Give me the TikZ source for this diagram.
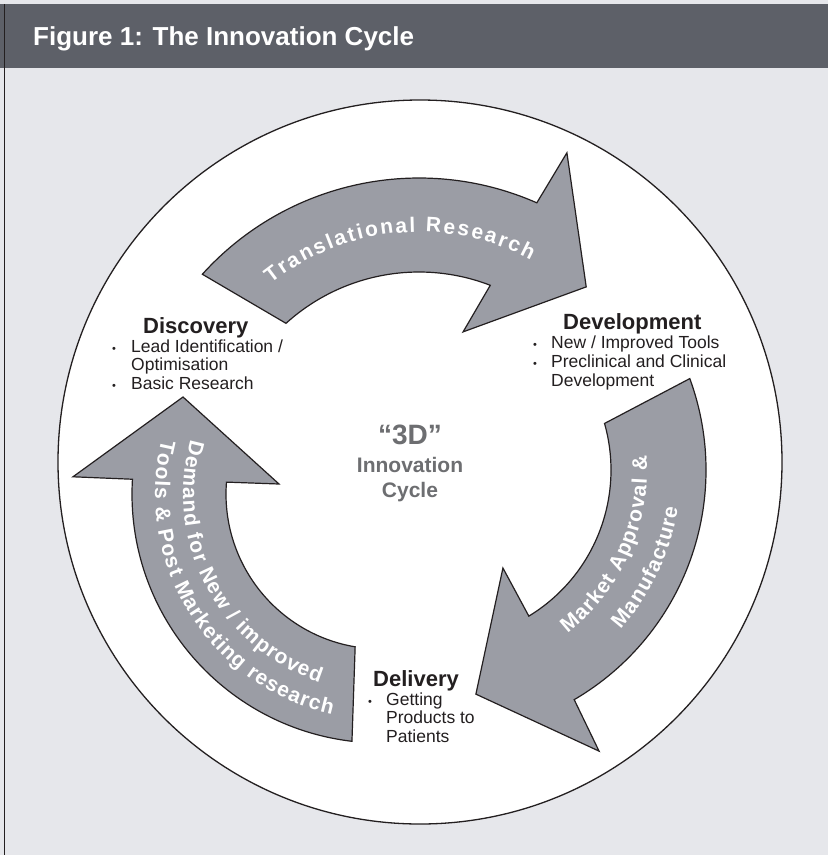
\documentclass[tikz,border=0pt]{standalone}
\usepackage{fontspec}
\setmainfont{Liberation Sans}
\definecolor{hdr}{HTML}{5D6068}
\definecolor{bg}{HTML}{E6E7EB}
\definecolor{arr}{HTML}{9B9DA5}
\definecolor{ink}{HTML}{231F20}
\definecolor{midgray}{HTML}{6D6E71}
\def\arrowsize{21}
\newcommand\arrowfont{\fontsize{\arrowsize}{\arrowsize}\selectfont\bfseries}
\newcounter{archar}
% #1 radius, #2 start angle, #3 end angle, #4 sign (1 = clockwise on screen, -1 = anticlockwise),
% #5 comma list of character/advance-width (em) pairs
\newcommand\arctext[5]{%
  \gdef\totw{0}\gdef\nch{0}%
  \foreach \c/\w in {#5} {\pgfmathsetmacro\tmpw{\totw+\w*\arrowsize}\xdef\totw{\tmpw}\pgfmathsetmacro\tmpn{\nch+1}\xdef\nch{\tmpn}}%
  \pgfmathsetmacro\trk{(abs((#3)-(#2))/57.29578*(#1)-\totw)/(\nch-1)}%
  \xdef\trk{\trk}%
  \xdef\curang{#2}%
  \foreach \c/\w in {#5} {%
    \pgfmathsetmacro\midang{\curang+(#4)*(\w*\arrowsize/2)/(#1)*57.29578}%
    \pgfmathsetmacro\rot{-(\midang+(#4)*90)}%
    \stepcounter{archar}%
    \node[rotate=\rot,anchor=base,inner sep=0,text=white] (ac\arabic{archar}) at (\midang:#1) {\arrowfont\c};%
    \pgfmathsetmacro\nextang{\curang+(#4)*(\w*\arrowsize+\trk)/(#1)*57.29578}%
    \xdef\curang{\nextang}%
  }%
}
\begin{document}
\begin{tikzpicture}[x=1pt,y=-1pt,
  arrowshape/.style={fill=arr,draw=ink,line width=1.2pt,line join=miter},
  head/.style={anchor=base west,inner sep=0,text=ink,font=\fontsize{22}{22}\selectfont\bfseries},
  btext/.style={anchor=base west,inner sep=0,text=ink,font=\fontsize{17.5}{18}\selectfont},
  bul/.style={anchor=base,inner sep=0,text=ink,font=\fontsize{11}{11}\selectfont},
  ctext/.style={anchor=base,inner sep=0,text=midgray,font=\fontsize{21}{21}\selectfont\bfseries}
]
\useasboundingbox (0,0) rectangle (828,855);
\fill[bg] (0,0) rectangle (828,855);
\fill[hdr] (0,4) rectangle (828,68);
\draw[ink,line width=1.5pt] (4.5,4) -- (4.5,855);
\node[anchor=base west,inner sep=0,text=white,font=\fontsize{26}{26}\selectfont\bfseries] (title) at (33,45) {Figure 1: The Innovation Cycle};

% big circle
\draw[fill=white,draw=ink,line width=1.3pt] (420,462) circle[radius=362];

% top arrow
\begin{scope}[shift={(419,470)}]
\draw[arrowshape] (-137.9:292) arc[start angle=-137.9,end angle=-66.2,radius=292]
  -- (-65:350) -- (-47.6:248) -- (-72.3:145) -- (-68.9:198)
  arc[start angle=-68.9,end angle=-132.2,radius=198] -- cycle;
\arctext{238}{-128.5}{-62}{1}{T/0.611,r/0.389,a/0.556,n/0.611,s/0.556,l/0.278,a/0.556,t/0.333,i/0.278,o/0.611,n/0.611,a/0.556,l/0.278,{\ }/0.278,R/0.722,e/0.556,s/0.556,e/0.556,a/0.556,r/0.389,c/0.556,h/0.611}
\end{scope}

% right arrow
\begin{scope}[shift={(440,470)}]
\draw[arrowshape] (-20.1:266) arc[start angle=-20.1,end angle=59.7,radius=266]
  -- (60.5:323) -- (80.9:227) -- (57.3:116.5) -- (58.7:171)
  arc[start angle=58.7,end angle=-15.8,radius=171] -- cycle;
\arctext{207}{52}{-4}{-1}{M/0.833,a/0.556,r/0.389,k/0.556,e/0.556,t/0.333,{\ }/0.278,A/0.722,p/0.611,p/0.611,r/0.389,o/0.611,v/0.556,a/0.556,l/0.278,{\ }/0.278,\&/0.722}
\arctext{241}{41.5}{9}{-1}{M/0.833,a/0.556,n/0.611,u/0.611,f/0.333,a/0.556,c/0.556,t/0.333,u/0.611,r/0.389,e/0.556}
\end{scope}

% left arrow
\begin{scope}[shift={(381,494)}]
\draw[arrowshape] (96.7:249) arc[start angle=96.7,end angle=183.4,radius=249]
  -- (183.2:308.5) -- (206.1:220.5) -- (185.6:102.5) -- (184.4:155)
  arc[start angle=184.4,end angle=99.6,radius=155] -- cycle;
\arctext{198}{196}{108}{-1}{D/0.722,e/0.556,m/0.889,a/0.556,n/0.611,d/0.611,{\ }/0.278,f/0.333,o/0.611,r/0.389,{\ }/0.278,N/0.722,e/0.556,w/0.778,{\ }/0.278,\slash/0.278,{\ }/0.278,i/0.278,m/0.889,p/0.611,r/0.389,o/0.611,v/0.556,e/0.556,d/0.611}
\arctext{226}{194}{102.5}{-1}{T/0.611,o/0.611,o/0.611,l/0.278,s/0.556,{\ }/0.278,\&/0.722,{\ }/0.278,P/0.667,o/0.611,s/0.556,t/0.333,{\ }/0.278,M/0.833,a/0.556,r/0.389,k/0.556,e/0.556,t/0.333,i/0.278,n/0.611,g/0.611,{\ }/0.278,r/0.389,e/0.556,s/0.556,e/0.556,a/0.556,r/0.389,c/0.556,h/0.611}
\end{scope}

% Discovery
\node[head] (disc) at (143,333) {Discovery};
\node[bul] (db1) at (114,352) {•};
\node[btext] (dt1) at (131,352) {Lead Identification /};
\node[btext] (dt2) at (131,370) {Optimisation};
\node[bul] (db2) at (114,389) {•};
\node[btext] (dt3) at (131,389) {Basic Research};

% Development
\node[head] (dev) at (563,329) {Development};
\node[bul] (vb1) at (535,348) {•};
\node[btext] (vt1) at (551,348) {New / Improved Tools};
\node[bul] (vb2) at (535,367) {•};
\node[btext] (vt2) at (551,367) {Preclinical and Clinical};
\node[btext] (vt3) at (551,386) {Development};

% Delivery
\node[head] (del) at (373,686) {Delivery};
\node[bul] (lb1) at (370,705) {•};
\node[btext] (lt1) at (386,705) {Getting};
\node[btext] (lt2) at (386,723) {Products to};
\node[btext] (lt3) at (386,742) {Patients};

% centre
\node[ctext,font=\fontsize{28}{28}\selectfont\bfseries] (threeD) at (410,444) {“3D”};
\node[ctext] (innov) at (410,472) {Innovation};
\node[ctext] (cyc) at (410,497) {Cycle};
\end{tikzpicture}
\end{document}
